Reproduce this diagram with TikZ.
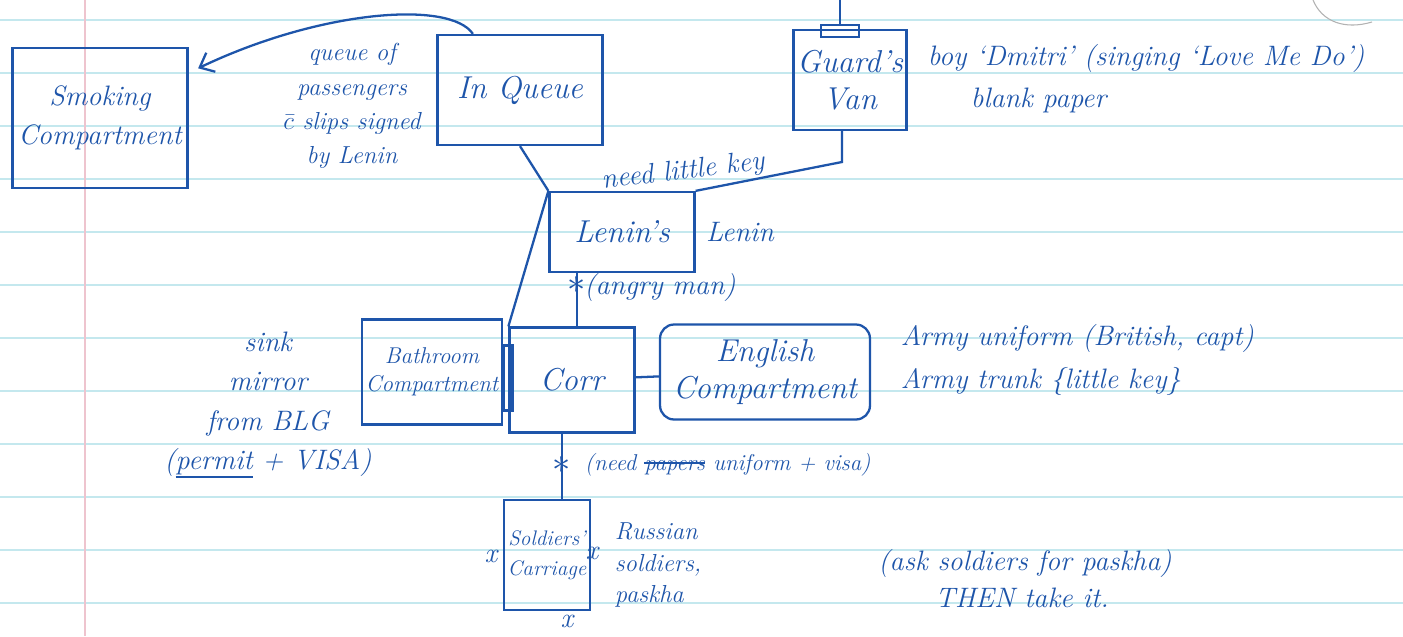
\documentclass[tikz,border=0pt]{standalone}
\usetikzlibrary{positioning,arrows.meta}
\definecolor{ink}{RGB}{30,85,170}
\definecolor{ruled}{RGB}{196,232,238}
\definecolor{margin}{RGB}{238,196,206}
\newcommand\struck[1]{\setbox0\hbox{#1}\rlap{\rule[0.28em]{\wd0}{1.6pt}}\box0\relax}
\newcommand\undl[1]{\setbox0\hbox{#1}\rlap{\rule[-0.3em]{\wd0}{1.2pt}}\box0\relax}

\begin{document}
\begin{tikzpicture}[x=0.02cm,y=-0.02cm,>={Straight Barb[length=7pt,width=12pt]},line width=1.3pt,
    box/.style={draw=ink,text=ink,rectangle,align=center,inner sep=2pt,font=\itshape\fontsize{18}{21}\selectfont},
    small box/.style={box,font=\itshape\fontsize{13}{16}\selectfont},
    note/.style={text=ink,align=center,inner sep=1pt,font=\itshape\fontsize{16}{20}\selectfont},
    small note/.style={note,font=\itshape\fontsize{14}{19.5}\selectfont},
    lock/.style={text=ink,inner sep=0pt,font=\huge}]
    % the sheet
    \useasboundingbox (0,0) rectangle (1403,636);
    \fill[white] (0,0) rectangle (1403,636);
    \foreach \y in {20,73,...,630}
        \draw[ruled,line width=0.8pt] (0,\y) -- (1403,\y);
    \draw[margin,line width=1pt] (85,0) -- (85,636);
    \draw[black!30,line width=0.6pt] (1313,0) .. controls (1322,22) and (1345,30) .. (1372,22);

    % compartments
    \node[box,font=\itshape\fontsize{16}{22}\selectfont,minimum width=3.5cm,minimum height=2.8cm] (smoke) at (100,118) {Smoking\\Compartment};
    \node[box,minimum width=3.3cm,minimum height=2.2cm] (queue) at (520,90) {In Queue};
    \node[box,minimum width=2.2cm,minimum height=2cm] (guard) at (850,80) {Guard's\\Van};
    \node[draw=ink,minimum width=0.76cm,minimum height=0.24cm,inner sep=0pt] (hatch) at (840,31) {};
    \coordinate (cord) at (840,0);
    \node[box,minimum width=2.9cm,minimum height=1.6cm] (lenin) at (622,232) {Lenin's};
    \node[box,minimum width=2.5cm,minimum height=2.1cm] (corr) at (572,380) {Corr};
    \node[small box,minimum width=2.7cm,minimum height=2.1cm] (bath) at (432,372) {Bathroom\\Compartment};
    \node[box,rounded corners=8pt,minimum width=4.2cm,minimum height=1.9cm] (eng) at (765,372) {English\\Compartment};
    \node[small box,font=\itshape\fontsize{12}{17}\selectfont,minimum width=1.7cm,minimum height=2.2cm] (sold) at (547,555) {Soldiers'\\Carriage};
    \node[draw=ink,minimum width=0.18cm,minimum height=1.3cm,inner sep=0pt] (door) at (508,378) {};

    % locked doors and exits
    \node[lock] (lockA) at (577,285) {$\ast$};
    \node[lock] (lockB) at (562,465) {$\ast$};
    \node[note] (xw) at (491,556) {x};
    \node[note] (xe) at (592,553) {x};
    \node[note] (xs) at (567,621) {x};
    \coordinate (bend) at (842,162);

    \draw[->,shorten >=6pt,ink] (queue.130) .. controls (450,0) and (320,10) .. (smoke.27);
    \path[draw=ink]
        (cord) edge (hatch)
        (queue.south) edge (lenin.north west)
        (lenin.north west) edge (corr.north west)
        (lenin.south -| lockA) edge (corr.north -| lockA)
        (bath) edge (door)
        (corr) edge (eng)
        (corr.south -| lockB) edge (sold.north -| lockB)
        ;
    \draw[ink] (lenin.north east) -- (bend) -- (guard.south -| bend);

    % notes
    \node[note,rotate=7] (keylbl) at (683,172) {need little key};
    \node[small note] (qnote) at (352,106) {queue of\\passengers\\$\bar{c}$ slips signed\\by Lenin};
    \node[note,anchor=west] (boy) at (925,58) {boy `Dmitri' (singing `Love Me Do')};
    \node[note,anchor=west] (paper) at (968,100) {blank paper};
    \node[note] (lenname) [right=0.15cm of lenin] {Lenin};
    \node[note] (angry) at (660,287) {(angry man)};
    \node[note,anchor=west,align=left,font=\itshape\fontsize{16}{24}\selectfont] (kit) at (898,360) {Army uniform (British, capt)\\Army trunk \{little key\}};
    \node[note,font=\itshape\fontsize{16}{22.5}\selectfont] (sink) at (268,405) {sink\\mirror\\from BLG\\(\undl{permit} + VISA)};
    \node[note,anchor=west,font=\itshape\fontsize{13}{16}\selectfont] (need) at (582,465) {(need \struck{papers} uniform + visa)};
    \node[note,anchor=west,align=left,font=\itshape\fontsize{14}{18}\selectfont] (russ) at (612,565) {Russian\\soldiers,\\paskha};
    \node[note] (ask) at (1025,563) {(ask soldiers for paskha)};
    \node[note] (then) at (1022,598) {THEN take it.};
\end{tikzpicture}
\end{document}
